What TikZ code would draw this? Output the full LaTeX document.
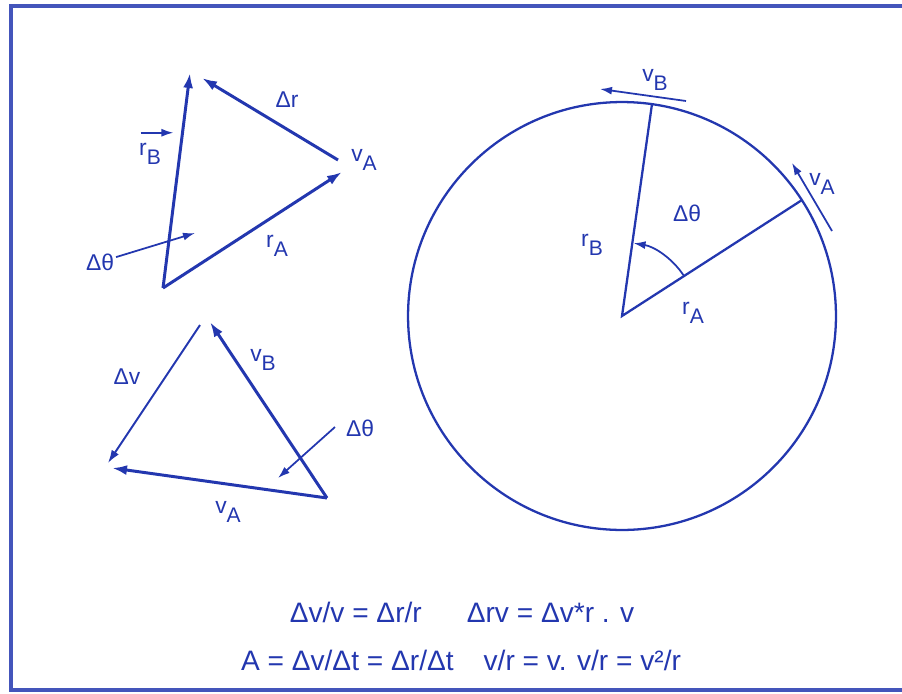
\documentclass[tikz,border=0pt]{standalone}
\usepackage{fontspec}
\setmainfont{Liberation Sans}
\usetikzlibrary{arrows.meta}
\definecolor{ink}{RGB}{35,55,175}
\newcommand{\sbs}[1]{\raisebox{-0.7ex}{\fontsize{12}{12}\selectfont #1}}
\tikzset{
  vec/.style={draw=ink, -{Latex[length=3mm,width=2mm]}, line width=1.7pt},
  midvec/.style={draw=ink, -{Latex[length=2.6mm,width=1.7mm]}, line width=1.1pt},
  thinvec/.style={draw=ink, -{Latex[length=2.4mm,width=1.6mm]}, line width=1pt},
  seg/.style={draw=ink, line width=1.3pt},
  lbl/.style={text=ink, inner sep=1pt, font=\fontsize{13}{15}\selectfont},
  eqn/.style={text=ink, inner sep=0pt, font=\fontsize{16}{19}\selectfont},
  frame/.style={draw=ink!85, line width=1.8pt}
}
\begin{document}
\begin{tikzpicture}[x=0.02cm, y=-0.02cm]
\useasboundingbox (0,0) rectangle (902,693);
\draw[frame] (908,6) -- (11,6) -- (11,690) -- (908,690);

\coordinate (o1) at (163,288);
\coordinate (b1) at (190,73);
\coordinate (a1) at (342,172);
\coordinate (a1t) at (338,160);
\coordinate (b1h) at (202,78);
\draw[vec] (o1) -- (b1);
\draw[vec] (o1) -- (a1);
\draw[vec] (a1t) -- (b1h);
\node[lbl] (dr) at (287,100) {Δr};
\node[lbl] (va1) at (364,160) {v\sbs{A}};
\node[lbl] (ra1) at (277,246) {r\sbs{A}};
\node[lbl] (rb1) at (150,154) {r\sbs{B}};
\draw[thinvec] ([xshift=2pt,yshift=5pt]rb1.north west) -- ([xshift=6pt,yshift=5pt]rb1.north east);
\node[lbl] (dth1) at (100,262) {Δθ};
\coordinate (dth1h) at (195,233);
\draw[thinvec] (dth1) -- (dth1h);

\coordinate (t2) at (200,325);
\coordinate (dvh) at (108,463);
\coordinate (o2) at (327,498);
\coordinate (vbh) at (210,322);
\coordinate (vah) at (112,468);
\draw[midvec] (t2) -- (dvh);
\draw[vec] (o2) -- (vbh);
\draw[vec] (o2) -- (vah);
\node[lbl] (dv) at (127,377) {Δv};
\node[lbl] (vb2) at (263,360) {v\sbs{B}};
\node[lbl] (va2) at (228,512) {v\sbs{A}};
\node[lbl] (dth2) at (360,428) {Δθ};
\coordinate (dth2t) at (335,427);
\coordinate (dth2h) at (278,478);
\draw[thinvec] (dth2t) -- (dth2h);

\coordinate (c) at (622,316);
\coordinate (pb) at (652,104);
\coordinate (pa) at (802,200);
\draw[seg] (c) circle[radius=4.28cm];
\draw[seg] (pb) -- (c) -- (pa);
\coordinate (vbt) at (686,101);
\coordinate (vbh3) at (600,89);
\coordinate (vat) at (832,231);
\coordinate (vah3) at (792,163);
\draw[thinvec] (vbt) -- (vbh3);
\draw[thinvec] (vat) -- (vah3);
\draw[thinvec] (684,276) arc[start angle=33, end angle=81, radius=1.48cm];
\node[lbl] (vb3) at (655,80) {v\sbs{B}};
\node[lbl] (va3) at (822,184) {v\sbs{A}};
\node[lbl] (dth3) at (687,213) {Δθ};
\node[lbl] (rb3) at (592,245) {r\sbs{B}};
\node[lbl] (ra3) at (693,313) {r\sbs{A}};

\node[eqn] (eq1) at (462,612) {Δv/v = Δr/r\hspace{0.9cm}Δrv = Δv*r . v};
\node[eqn] (eq2) at (461,660) {A = Δv/Δt = Δr/Δt\hspace{0.6cm}v/r = v. v/r = v²/r};
\end{tikzpicture}
\end{document}
